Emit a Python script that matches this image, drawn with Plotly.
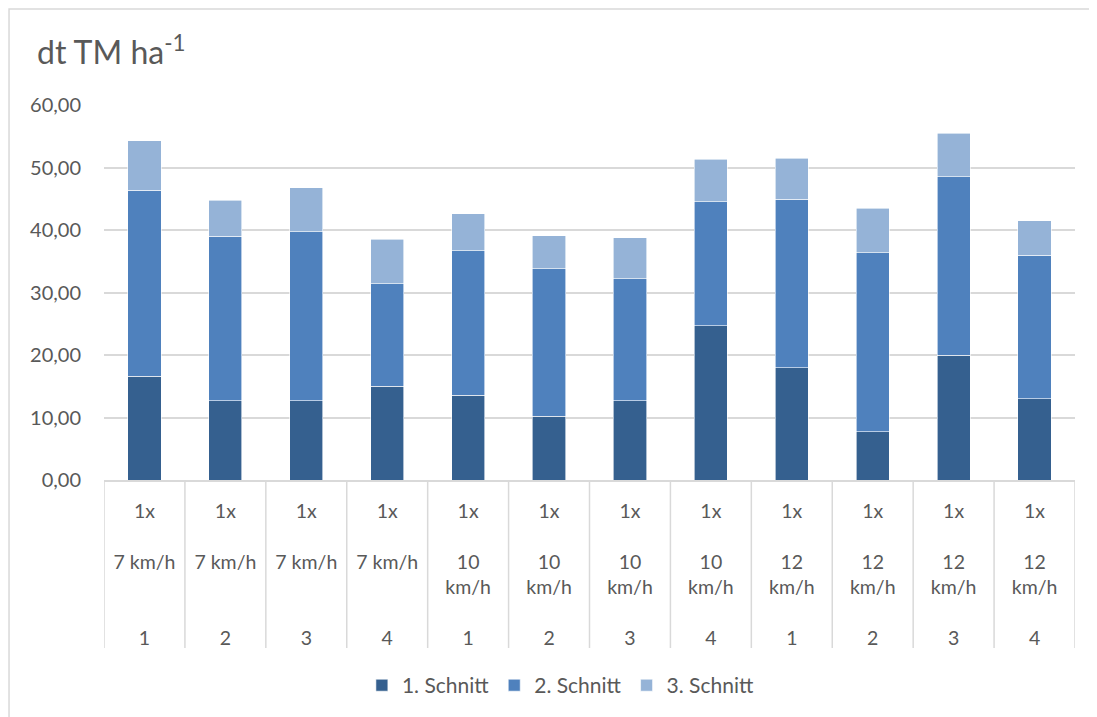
import plotly.graph_objects as go

# ---- data ----
passes = ["1x"] * 12
speeds = ["7 km/h"] * 4 + ["10 km/h"] * 4 + ["12 km/h"] * 4
reps = ["1", "2", "3", "4"] * 3

schnitt1 = [16.6, 12.7, 12.7, 15.0, 13.6, 10.2, 12.7, 24.7, 18.0, 7.7, 20.0, 13.0]
schnitt2 = [29.8, 26.3, 27.0, 16.4, 23.1, 23.6, 19.5, 19.8, 26.9, 28.7, 28.5, 23.0]
schnitt3 = [7.9, 5.8, 7.1, 7.15, 5.9, 5.3, 6.6, 6.8, 6.6, 7.1, 7.0, 5.5]

series_names = ["1. Schnitt", "2. Schnitt", "3. Schnitt"]
colors = ["#35608f", "#4f81bd", "#95b3d7"]


def make_label(p, s, r):
    parts = s.split(" ")
    if len(parts[0]) >= 2:
        mid = parts[0] + "<br>" + parts[1] + "<br>"
    else:
        mid = s + "<br> <br>"
    return p + "<br> <br>" + mid + " <br>" + r


categories = [make_label(p, s, r) for p, s, r in zip(passes, speeds, reps)]

fig = go.Figure()
for name, vals, col in zip(series_names, [schnitt1, schnitt2, schnitt3], colors):
    fig.add_trace(go.Bar(
        x=categories, y=vals, name=name,
        marker=dict(color=col, line=dict(color="white", width=0.6)),
    ))

font_color = "#595959"
grid_color = "#d9d9d9"

# category divider lines (axis boundaries)
shapes = []
for k in range(len(categories) + 1):
    shapes.append(dict(type="line", xref="x", yref="paper",
                       x0=k - 0.5, x1=k - 0.5, y0=0, y1=-0.448,
                       line=dict(color=grid_color, width=1.5)))
# outer chart border
shapes.append(dict(type="rect", xref="paper", yref="paper",
                   x0=-0.0978, x1=1.05, y0=-0.7, y1=1.256,
                   line=dict(color=grid_color, width=1.5), layer="below"))

fig.update_layout(
    width=1097, height=717,
    margin=dict(l=96, r=30, t=97, b=245),
    barmode="stack",
    bargap=0.59,
    plot_bgcolor="white", paper_bgcolor="white",
    separators=",.",
    font=dict(family="Lato, Open Sans, sans-serif", color=font_color, size=19),
    xaxis=dict(
        type="category",
        showgrid=False, showline=True, linecolor=grid_color, linewidth=1.5,
        ticks="", tickfont=dict(size=19.5, color=font_color),
        ticklabelstandoff=13,
        range=[-0.5, len(categories) - 0.5],
    ),
    yaxis=dict(
        range=[0, 60], dtick=10, tickformat=".2f",
        showgrid=True, gridcolor=grid_color, gridwidth=1.5,
        zeroline=False, showline=False,
        tickfont=dict(size=20, color=font_color),
        ticklabelstandoff=22,
    ),
    legend=dict(orientation="h", xref="container", yref="container",
                x=0.504, xanchor="center", y=0.055, yanchor="middle",
                traceorder="normal",
                font=dict(size=21, color=font_color),
                itemwidth=30, tracegroupgap=0),
    shapes=shapes,
    annotations=[dict(text="dt TM ha<sup>-1</sup>", xref="paper", yref="paper",
                      x=-0.071, y=1.147, xanchor="left", yanchor="middle",
                      showarrow=False, font=dict(size=32, color=font_color))],
    showlegend=True,
)

fig.write_html("out.html")
